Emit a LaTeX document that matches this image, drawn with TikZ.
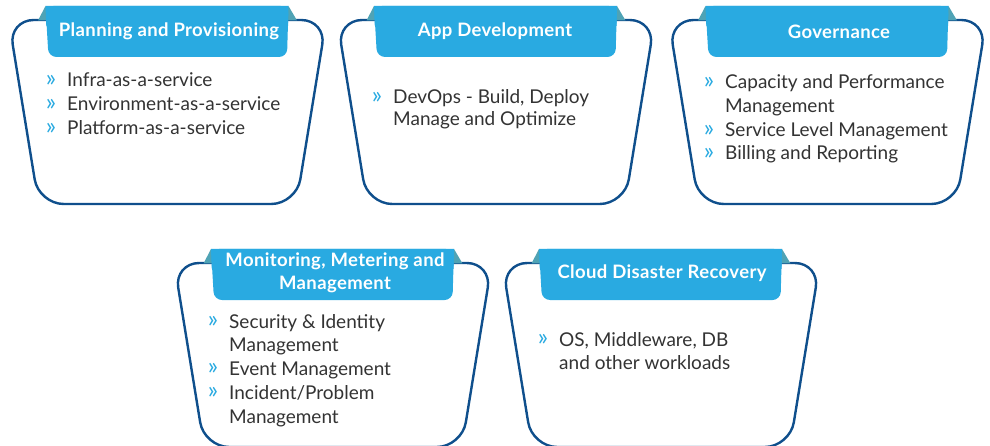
\documentclass[tikz,border=0pt]{standalone}
\usepackage{fontspec}
\setmainfont{Lato}
\definecolor{outl}{HTML}{0F4F8C}
\definecolor{tabc}{HTML}{29AAE1}
\definecolor{foldc}{HTML}{4FA3B5}
\definecolor{txt}{HTML}{333333}
\definecolor{bulc}{HTML}{29AAE1}
\newcommand\mycard[2]{% #1 centre x, #2 outline top y
  \draw[outl, line width=2.4pt, fill=white, rounded corners=25]
    (#1-158.8,#2) -- (#1+158.8,#2) -- (#1+128.8,#2+184) -- (#1-128.8,#2+184) -- cycle;
  \fill[foldc] (#1-129.5,#2+0.5) -- (#1-122,#2-14) -- (#1-118,#2+0.5) -- cycle;
  \fill[foldc] (#1+129.5,#2+0.5) -- (#1+121,#2-14) -- (#1+117,#2+0.5) -- cycle;
  \fill[tabc, rounded corners=8]
    (#1-122,#2-14) -- (#1+121,#2-14) -- (#1+119.5,#2+37) -- (#1-119,#2+37) -- cycle;
  \fill[tabc] (#1-122,#2-14) -- (#1+121,#2-14) -- (#1+120.5,#2+6) -- (#1-121.2,#2+6) -- cycle;
}
\newcommand\bul{\llap{\textcolor{bulc}{\fontsize{24}{24}\selectfont\raisebox{0.5pt}{»}}\hspace{11pt}}}
\tikzset{
  body/.style={anchor=base west, inner sep=0pt, text=txt, font=\fontsize{19}{24}\selectfont},
  title/.style={anchor=base, inner sep=0pt, text=white, font=\bfseries\fontsize{18.5}{24}\selectfont\addfontfeature{LetterSpace=2}}
}
\begin{document}
\begin{tikzpicture}[x=1pt,y=-1pt]
\useasboundingbox (0,0) rectangle (990,446);
\clip (0,0) rectangle (990,446);
\mycard{167.5}{20}
\mycard{496}{20}
\mycard{827.5}{20}
\mycard{333}{263}
\mycard{661}{263}
% titles
\node[title] (t1) at (169,37) {Planning and Provisioning};
\node[title] (t2) at (495,37) {App Development};
\node[title] (t3) at (839,39) {Governance};
\node[title] (t4a) at (335,266) {Monitoring, Metering and};
\node[title] (t4b) at (335,290) {Management};
\node[title] (t5) at (662,279) {Cloud Disaster Recovery};
% box 1
\node[body] (b1a) at (67,87) {\bul Infra-as-a-service};
\node[body] (b1b) at (67,111) {\bul Environment-as-a-service};
\node[body] (b1c) at (67,135) {\bul Platform-as-a-service};
% box 2
\node[body] (b2a) at (393,104) {\bul DevOps - Build, Deploy};
\node[body] (b2b) at (393,126) {Manage and Optimize};
% box 3
\node[body] (b3a) at (725,89) {\bul Capacity and Performance};
\node[body] (b3b) at (725,113) {Management};
\node[body] (b3c) at (725,137) {\bul Service Level Management};
\node[body] (b3d) at (725,160) {\bul Billing and Reporting};
% box 4
\node[body] (b4a) at (229,328) {\bul Security \& Identity};
\node[body] (b4b) at (229,351) {Management};
\node[body] (b4c) at (229,375) {\bul Event Management};
\node[body] (b4d) at (229,399) {\bul Incident/Problem};
\node[body] (b4e) at (229,423) {Management};
% box 5
\node[body] (b5a) at (559,346) {\bul OS, Middleware, DB};
\node[body] (b5b) at (559,369) {and other workloads};
\end{tikzpicture}
\end{document}
